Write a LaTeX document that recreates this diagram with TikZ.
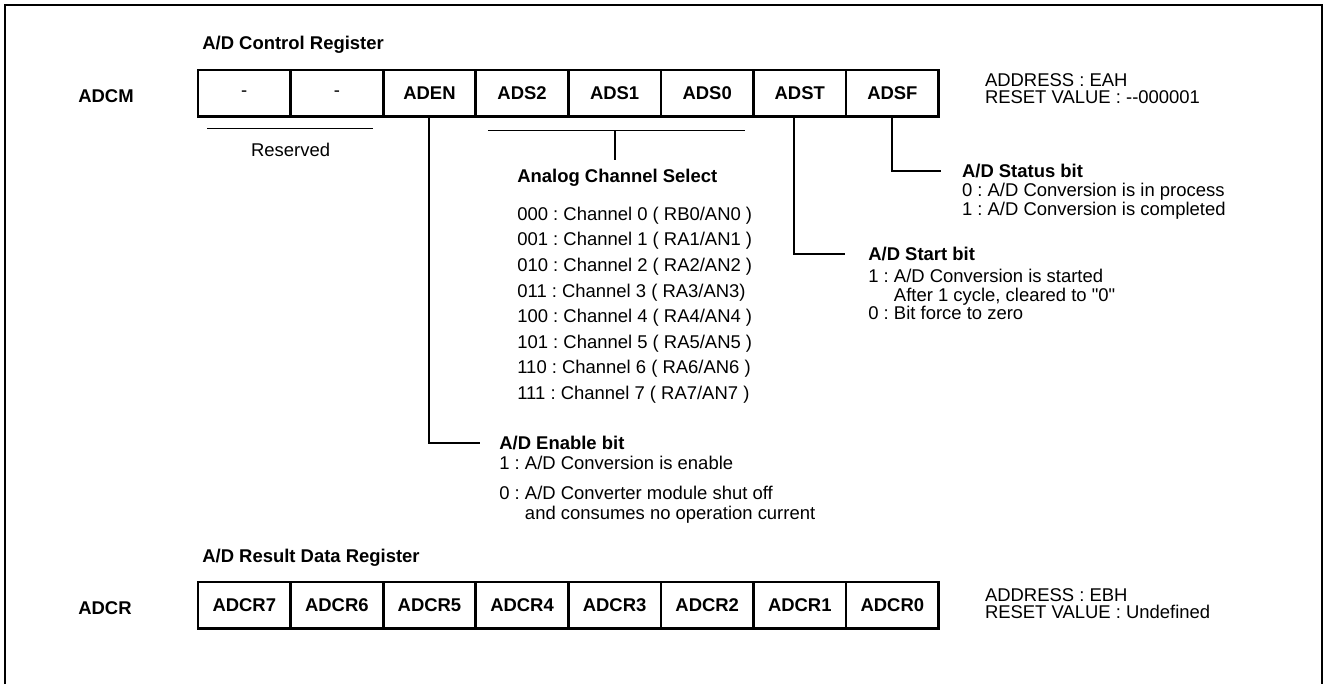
\documentclass[tikz,border=0pt]{standalone}
\usepackage{fontspec}
\setmainfont{Liberation Sans}[Ligatures=TeXOff]
\usetikzlibrary{calc,positioning}
\frenchspacing

\begin{document}
\begin{tikzpicture}[
    x=0.02cm, y=-0.02cm,
    font=\fontsize{10.5}{10.8}\selectfont,
    cell/.style={draw, line width=1.6pt, minimum width=1.852cm, minimum height=0.93cm, inner sep=0pt, outer sep=0pt, font=\fontsize{10.5}{10.8}\selectfont\bfseries},
    bittitle/.style={anchor=west, inner sep=0pt, font=\fontsize{10.5}{10.8}\selectfont\bfseries},
    body/.style={anchor=north west, inner sep=0pt, align=left},
    lead/.style={line width=1.1pt},
    outline/.style={line width=1.1pt}
  ]
    \useasboundingbox (0,0) rectangle (1326,684);
    \draw[outline] (5,684) |- (1322,5) -- (1322,684);

    % A/D control register
    \node[bittitle] (cmtitle) at (202,45) {A/D Control Register};
    \node[bittitle] (cmname) at (78,96) {ADCM};
    \node[cell, anchor=north west, font=\fontsize{10.5}{10.8}\selectfont] (res1) at (198,70) {-};
    \node[cell, right=0pt of res1, font=\fontsize{10.5}{10.8}\selectfont] (res2) {-};
    \node[cell, right=0pt of res2] (aden) {ADEN};
    \node[cell, right=0pt of aden] (ads2) {ADS2};
    \node[cell, right=0pt of ads2] (ads1) {ADS1};
    \node[cell, right=0pt of ads1] (ads0) {ADS0};
    \node[cell, right=0pt of ads0] (adst) {ADST};
    \node[cell, right=0pt of adst] (adsf) {ADSF};
    \node[body, font=\fontsize{10.5}{9.7}\selectfont] (cmaddr) at ($(adsf.north east)+(46,3)$) {ADDRESS : EAH\\RESET VALUE : -{}-000001};

    % reserved bits
    \draw[lead] ($(res1.south west)+(9,12)$) -- ($(res2.south east)+(-10,12)$);
    \node (reserved) at ($(res1.south east)+(0,33)$) {Reserved};

    % channel select
    \node[bittitle] (chsel) at (517,178) {Analog Channel Select};
    \node[body, font=\fontsize{10.5}{14.57}\selectfont] (chlist) at (517,206.5) {000 : Channel 0 ( RB0/AN0 )\\001 : Channel 1 ( RA1/AN1 )\\010 : Channel 2 ( RA2/AN2 )\\011 : Channel 3 ( RA3/AN3)\\100 : Channel 4 ( RA4/AN4 )\\101 : Channel 5 ( RA5/AN5 )\\110 : Channel 6 ( RA6/AN6 )\\111 : Channel 7 ( RA7/AN7 )};
    \draw[lead] ($(ads2.south west)+(12,14)$) -- ($(ads0.south east)+(-8,14)$);
    \draw[lead, shorten >=0.18cm] ($(ads1.south)+(0,14)$) -- (chsel.north -| ads1.south);

    % enable bit
    \node[bittitle] (entitle) at (499,443) {A/D Enable bit};
    \node[body, font=\fontsize{10.5}{11}\selectfont] (enbody) at (499,455.5) {1 : A/D Conversion is enable\\[6.5pt]0 : A/D Converter module shut off\\\phantom{0 : }and consumes no operation current};
    \draw[lead] (aden.south) |- ([xshift=-0.38cm]entitle.west);

    % start bit
    \node[bittitle] (sttitle) at (868,254) {A/D Start bit};
    \node[body, font=\fontsize{10.5}{10.5}\selectfont] (stbody) at (868,269) {1 : A/D Conversion is started\\\phantom{1 : }After 1 cycle, cleared to "0"\\0 : Bit force to zero};
    \draw[lead] ([xshift=-0.12cm]adst.south) |- ([xshift=-0.47cm]sttitle.west);

    % status bit
    \node[bittitle] (sftitle) at (961.7,171) {A/D Status bit};
    \node[body, font=\fontsize{10.5}{10.9}\selectfont] (sfbody) at (961.7,183) {0 : A/D Conversion is in process\\1 : A/D Conversion is completed};
    \draw[lead] (adsf.south) |- ([xshift=-0.42cm]sftitle.west);

    % A/D result data register
    \node[bittitle] (crtitle) at (202,558) {A/D Result Data Register};
    \node[bittitle] (crname) at (78,608) {ADCR};
    \node[cell, anchor=north west] (adcr7) at (198,582) {ADCR7};
    \node[cell, right=0pt of adcr7] (adcr6) {ADCR6};
    \node[cell, right=0pt of adcr6] (adcr5) {ADCR5};
    \node[cell, right=0pt of adcr5] (adcr4) {ADCR4};
    \node[cell, right=0pt of adcr4] (adcr3) {ADCR3};
    \node[cell, right=0pt of adcr3] (adcr2) {ADCR2};
    \node[cell, right=0pt of adcr2] (adcr1) {ADCR1};
    \node[cell, right=0pt of adcr1] (adcr0) {ADCR0};
    \node[body, font=\fontsize{10.5}{9.7}\selectfont] (craddr) at ($(adcr0.north east)+(46,6)$) {ADDRESS : EBH\\RESET VALUE : Undefined};
\end{tikzpicture}
\end{document}
